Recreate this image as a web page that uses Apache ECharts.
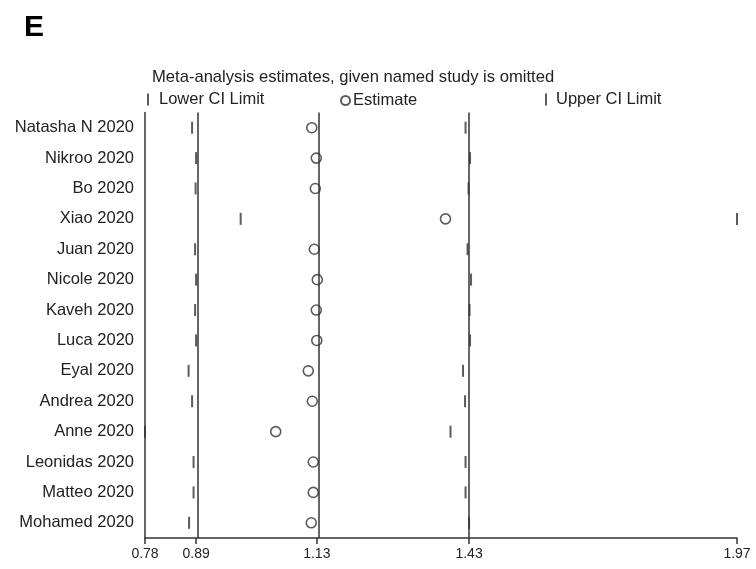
<!DOCTYPE html>
<html>
<head>
<meta charset="utf-8">
<script src="https://cdn.jsdelivr.net/npm/echarts@6/dist/echarts.min.js"></script>
<style>
html,body{margin:0;padding:0;background:#fff;}
#chart{width:756px;height:569px;}
</style>
</head>
<body>
<div id="chart"></div>
<script>
const studies = ['Natasha N 2020','Nikroo 2020','Bo 2020','Xiao 2020','Juan 2020','Nicole 2020','Kaveh 2020','Luca 2020','Eyal 2020','Andrea 2020','Anne 2020','Leonidas 2020','Matteo 2020','Mohamed 2020'];
const estimate = [1.117,1.126,1.124,1.384,1.122,1.128,1.126,1.127,1.110,1.118,1.045,1.120,1.120,1.116];
const lowerCI  = [0.878,0.886,0.885,0.975,0.884,0.886,0.884,0.886,0.871,0.878,0.784,0.881,0.881,0.872];
const upperCI  = [1.424,1.433,1.430,1.966,1.428,1.435,1.432,1.433,1.419,1.423,1.394,1.424,1.424,1.431];
const refLines = [0.886,1.127,1.431];
const axisMin = 0.784, axisMax = 1.966;
const tickValues = [0.784,0.886,1.127,1.431,1.966];
const tickLabels = ['0.78','0.89','1.13','1.43','1.97'];

const chart = echarts.init(document.getElementById('chart'));
const font = 'Liberation Sans, Arial, Helvetica, sans-serif';
const dark = '#333';

function pairs(vals){ return vals.map((v,i)=>[v, studies[i]]); }

chart.setOption({
  animation:false,
  backgroundColor:'#fff',
  textStyle:{fontFamily:font},
  title:[
    {text:'E', left:24, top:13, padding:0, textStyle:{fontSize:30, fontWeight:'bold', color:'#000', fontFamily:font}},
    {text:'Meta-analysis estimates, given named study is omitted', left:152, top:69, padding:0, textStyle:{fontSize:16.6, fontWeight:'normal', color:'#222', fontFamily:font}}
  ],
  legend:[
    {data:['Lower CI Limit'], left:147, top:91, padding:0, itemWidth:2, itemHeight:12, icon:'rect', textStyle:{fontSize:16.5,color:'#222',fontFamily:font,padding:[0,0,0,5]}},
    {data:['Estimate'], left:340, top:92, padding:0, itemWidth:9, itemHeight:9, icon:'circle', textStyle:{fontSize:16.5,color:'#222',fontFamily:font,padding:[0,0,0,-2]}},
    {data:['Upper CI Limit'], left:545, top:91, padding:0, itemWidth:2, itemHeight:12, icon:'rect', textStyle:{fontSize:16.5,color:'#222',fontFamily:font,padding:[0,0,0,4]}}
  ],
  grid:{left:145, top:112.5, width:592, height:425.5, containLabel:false},
  xAxis:{
    type:'value', min:axisMin, max:axisMax,
    axisLine:{show:true, lineStyle:{color:dark, width:1.5}},
    axisTick:{show:true, customValues:tickValues, length:6, lineStyle:{color:dark, width:1.5}},
    axisLabel:{customValues:tickValues, fontSize:14, color:'#222', margin:9, fontFamily:font,
      formatter:function(v){ const i = tickValues.findIndex(t=>Math.abs(t-v)<1e-6); return i>=0 ? tickLabels[i] : ''; }},
    splitLine:{show:false}
  },
  yAxis:{
    type:'category', data:studies, inverse:true,
    axisLine:{show:true, lineStyle:{color:dark, width:1.5}},
    axisTick:{show:false},
    axisLabel:{fontSize:16.5, color:'#222', margin:11, fontFamily:font},
    splitLine:{show:false}
  },
  series:[
    {name:'Lower CI Limit', type:'scatter', data:pairs(lowerCI), symbol:'rect', symbolSize:[2,12],
      itemStyle:{color:'#333'}, z:3},
    {name:'Estimate', type:'scatter', data:pairs(estimate), symbol:'circle', symbolSize:10,
      itemStyle:{color:'#fff', borderColor:dark, borderWidth:1.6}, z:4,
      markLine:{silent:true, symbol:'none', label:{show:false}, lineStyle:{color:dark, width:1.5, type:'solid'},
        data:refLines.map(v=>({xAxis:v}))}},
    {name:'Upper CI Limit', type:'scatter', data:pairs(upperCI), symbol:'rect', symbolSize:[2,12],
      itemStyle:{color:'#333'}, z:3}
  ]
});
</script>
</body>
</html>
